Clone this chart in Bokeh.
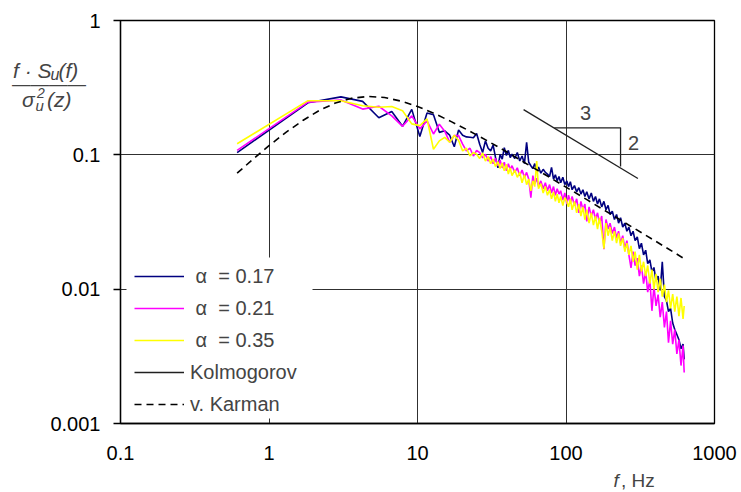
from bokeh.plotting import figure
from bokeh.models import (FixedTicker, CustomJSTickFormatter, Label, Legend, LegendItem,
                          BoxAnnotation, Range1d)
from bokeh.embed import file_html
from bokeh.resources import INLINE

# ---------------- data ----------------
freq = [0.61, 1.83, 3.05, 4.27, 5.49, 6.71, 7.93, 9.15, 10.37, 11.59, 12.81, 14.03, 15.25,
        16.47, 17.69, 18.91, 20.13, 21.35, 22.57, 23.79, 25.01, 26.23, 27.45, 28.67, 29.89,
        31.1, 32.3, 33.5, 34.8, 36.0, 37.2, 38.4, 39.7, 40.9, 42.1, 43.3, 45.2, 47.0, 48.8,
        50.6, 52.5, 54.3, 56.1, 58.0, 59.8, 61.6, 63.5, 65.3, 67.7, 70.2, 72.6, 75.0, 77.5,
        79.9, 82.4, 84.8, 87.2, 89.7, 92.1, 95.2, 98.2, 101.3,
        104, 107, 110, 114, 118, 122, 126, 130, 134, 138, 143, 148, 153, 158, 163, 168, 174,
        180, 186, 192, 198, 205, 212, 219, 226, 233, 241, 249, 257, 265, 274, 283, 292, 302,
        312, 322, 333, 344, 355, 367, 379, 391, 404, 417, 431, 445, 460, 475, 490, 506, 523,
        540, 558, 576, 595, 614, 625]

s_017 = [0.104, 0.244, 0.270, 0.250, 0.189, 0.210, 0.163, 0.218, 0.137, 0.205, 0.199, 0.147, 0.151,
         0.140, 0.115, 0.153, 0.140, 0.136, 0.135, 0.134, 0.144, 0.120, 0.104, 0.127, 0.112,
         0.107, 0.118, 0.096, 0.080, 0.101, 0.093, 0.113, 0.099, 0.108, 0.0955, 0.101, 0.094, 0.104, 0.090,
         0.098, 0.086, 0.124, 0.088, 0.083, 0.079, 0.086, 0.076, 0.081, 0.073, 0.078, 0.074, 0.0718, 0.069,
         0.0806, 0.066, 0.071, 0.064, 0.069, 0.062, 0.068, 0.060, 0.064,
         0.058, 0.063, 0.055, 0.059, 0.053, 0.057, 0.051, 0.055, 0.049, 0.053, 0.047, 0.052, 0.045, 0.049,
         0.043, 0.047, 0.041, 0.045, 0.039, 0.042, 0.036, 0.038, 0.033, 0.036, 0.031, 0.034, 0.029, 0.031,
         0.027, 0.029, 0.025, 0.027, 0.023, 0.0245, 0.020, 0.022, 0.018, 0.0195, 0.0155, 0.0165, 0.0135,
         0.0145, 0.0115, 0.0125, 0.0098, 0.0160, 0.0088, 0.0082, 0.0068, 0.0072, 0.0056, 0.0050, 0.0046,
         0.0042, 0.0036, 0.0039, 0.0030]

s_021 = [0.108, 0.247, 0.256, 0.219, 0.230, 0.195, 0.163, 0.195, 0.156, 0.179, 0.143, 0.169, 0.150,
         0.124, 0.139, 0.139, 0.120, 0.107, 0.112, 0.098, 0.108, 0.104, 0.095, 0.101, 0.090,
         0.097, 0.086, 0.094, 0.083, 0.091, 0.080, 0.088, 0.076, 0.086, 0.078, 0.083, 0.074, 0.080, 0.070,
         0.077, 0.068, 0.074, 0.066, 0.048, 0.070, 0.061, 0.067, 0.058, 0.064, 0.056, 0.062, 0.054, 0.060,
         0.052, 0.058, 0.050, 0.056, 0.051, 0.054, 0.046, 0.052, 0.043,
         0.050, 0.044, 0.049, 0.042, 0.047, 0.037, 0.045, 0.039, 0.043, 0.032, 0.041, 0.035, 0.039, 0.033,
         0.037, 0.031, 0.035, 0.0198, 0.033, 0.028, 0.031, 0.026, 0.029, 0.024, 0.027, 0.022, 0.025, 0.020,
         0.023, 0.018, 0.0144, 0.019, 0.015, 0.017, 0.0125, 0.015, 0.011, 0.0135, 0.0095, 0.0118, 0.0069,
         0.0105, 0.0075, 0.0091, 0.0062, 0.0080, 0.0052, 0.0068, 0.0040, 0.0058, 0.0039, 0.0050, 0.0033,
         0.0042, 0.0027, 0.0038, 0.0024]

s_035 = [0.121, 0.253, 0.253, 0.232, 0.226, 0.229, 0.213, 0.170, 0.165, 0.185, 0.110, 0.127, 0.135,
         0.124, 0.140, 0.128, 0.107, 0.112, 0.098, 0.104, 0.101, 0.094, 0.103, 0.090, 0.097,
         0.086, 0.093, 0.082, 0.089, 0.079, 0.087, 0.076, 0.085, 0.072, 0.080, 0.070, 0.077, 0.068, 0.074,
         0.062, 0.071, 0.060, 0.066, 0.054, 0.064, 0.058, 0.090, 0.056, 0.061, 0.052, 0.058, 0.050, 0.055,
         0.047, 0.053, 0.045, 0.051, 0.044, 0.049, 0.042, 0.048, 0.045,
         0.041, 0.047, 0.039, 0.045, 0.037, 0.043, 0.035, 0.041, 0.033, 0.039, 0.031, 0.037, 0.030, 0.035,
         0.028, 0.034, 0.027, 0.020, 0.031, 0.025, 0.029, 0.023, 0.027, 0.022, 0.026, 0.021, 0.024, 0.019,
         0.022, 0.018, 0.021, 0.016, 0.019, 0.014, 0.018, 0.0135, 0.016, 0.0125, 0.015, 0.0110, 0.0140,
         0.0100, 0.0130, 0.0095, 0.0120, 0.0088, 0.0108, 0.0080, 0.0098, 0.0072, 0.0092, 0.0068, 0.0088,
         0.0063, 0.0086, 0.0060, 0.0075]

karman_f = [0.61, 0.8, 1, 1.3, 1.7, 2.2, 2.8, 3.6, 4.7, 6, 8, 10, 13, 17, 22, 30, 40, 55, 75,
            100, 140, 200, 280, 400, 550, 640]
karman_v = [0.073, 0.095, 0.117, 0.147, 0.181, 0.215, 0.243, 0.264, 0.272, 0.267, 0.249, 0.229,
            0.203, 0.176, 0.152, 0.126, 0.105, 0.085, 0.0695, 0.0575, 0.046, 0.0362, 0.0289,
            0.0228, 0.0184, 0.0166]

kolm_f = [51.8, 305]
kolm_v = [0.217, 0.0666]
tri_f = [83.4, 233, 233]
tri_v = [0.159, 0.159, 0.0818]

labels = [" \u03b1  = 0.17", " \u03b1  = 0.21", " \u03b1  = 0.35", "Kolmogorov", "v. Karman"]
x_ticks = [0.1, 1, 10, 100, 1000]
y_ticks = [0.001, 0.01, 0.1, 1]

assert len(freq) == len(s_017) == len(s_021) == len(s_035)

FONT = "Liberation Sans"
SHIFT = 300   # hidden extra border on the left that hosts the axis-title labels

# page-pixel -> data helpers (used only to place annotation texts)
def fx(px):
    return 10 ** ((px - 120.0) / 148.5 - 1)

def fy(py):
    return 10 ** (-(py - 20.0) / 134.33)

p = figure(width=741 + SHIFT, height=492, x_axis_type="log", y_axis_type="log",
           x_range=Range1d(0.1, 1000), y_range=Range1d(0.001, 1),
           output_backend="svg", toolbar_location=None,
           min_border_left=120 + SHIFT, min_border_right=27, min_border_top=20,
           min_border_bottom=69, margin=(0, 0, 0, -SHIFT))

p.background_fill_color = "white"
p.border_fill_color = "white"
p.outline_line_color = "black"
p.outline_line_width = 1.3

fmt = CustomJSTickFormatter(code="return String(tick);")
p.xaxis.ticker = FixedTicker(ticks=x_ticks, minor_ticks=[])
p.yaxis.ticker = FixedTicker(ticks=y_ticks, minor_ticks=[])
p.xaxis.formatter = fmt
p.yaxis.formatter = fmt
for ax in (p.xaxis[0], p.yaxis[0]):
    ax.axis_line_color = "black"
    ax.axis_line_width = 1.3
    ax.major_tick_line_color = "black"
    ax.major_tick_line_width = 1.3
    ax.major_tick_in = 0
    ax.minor_tick_in = 0
    ax.minor_tick_out = 0
    ax.major_label_text_font = FONT
    ax.major_label_text_font_size = "20px"
    ax.major_label_text_color = "black"
p.xaxis.major_tick_out = 0
p.xaxis.major_label_standoff = 22
p.yaxis.major_tick_out = 7
p.yaxis.major_label_standoff = 13

p.xgrid.grid_line_color = "#303030"
p.ygrid.grid_line_color = "#303030"
p.xgrid.grid_line_width = 1
p.ygrid.grid_line_width = 1

r1 = p.line(freq, s_017, line_color="#000080", line_width=1.6)
r2 = p.line(freq, s_021, line_color="#FF00FF", line_width=1.6)
r3 = p.line(freq, s_035, line_color="#FFFF00", line_width=1.6)
r5 = p.line(karman_f, karman_v, line_color="black", line_width=1.6, line_dash="7 5")
r4 = p.line(kolm_f, kolm_v, line_color="#202020", line_width=1.3)
p.line(tri_f, tri_v, line_color="#202020", line_width=1.3)

p.add_layout(Label(x=fx(585), y=fy(112), text="3", text_align="center", text_baseline="middle",
                   text_font=FONT, text_font_size="20px"))
p.add_layout(Label(x=fx(633), y=fy(142), text="2", text_align="center", text_baseline="middle",
                   text_font=FONT, text_font_size="20px"))

# white legend background
p.add_layout(BoxAnnotation(left=fx(126), right=fx(312), top=fy(257), bottom=fy(418),
                           fill_color="white", fill_alpha=1.0, line_alpha=0))

legend = Legend(items=[LegendItem(label=labels[0], renderers=[r1]),
                       LegendItem(label=labels[1], renderers=[r2]),
                       LegendItem(label=labels[2], renderers=[r3]),
                       LegendItem(label=labels[3], renderers=[r4]),
                       LegendItem(label=labels[4], renderers=[r5])],
                location=(14, 3), padding=0, spacing=0, margin=0,
                glyph_width=50, glyph_height=32, label_height=32, label_standoff=6,
                label_text_font=FONT, label_text_font_size="20px",
                background_fill_alpha=0, border_line_alpha=0)
p.add_layout(legend)

# axis titles: labels hosted in the (partly hidden) left side panel so the frame does not clip them
def txt(x, y, t, size="21px", style="italic"):
    p.add_layout(Label(x=fx(x), y=fy(y), text=t, text_font=FONT, text_font_size=size,
                       text_font_style=style, text_baseline="middle", text_align="left"),
                 "left")

# y-axis title: f . S_u(f) / sigma_u^2(z)   (y = vertical centre of each piece)
txt(12.5, 69.6, "f \u00b7 S")
txt(50, 73.5, "u", size="16px")
txt(58, 69.6, "(f)")
txt(11.5, 82.6, "\u2014\u2014\u2014\u2014", size="18.5px", style="normal")   # fraction bar
txt(21.5, 98.6, "\u03c3")
txt(36.5, 92.2, "2", size="14px")
txt(35, 105.3, "u", size="15px")
txt(46.5, 98.6, "(z)")

# x-axis title
txt(613, 479.5, "f", size="19px")
txt(620.5, 479.5, ",  Hz", size="19px", style="normal")

open("out.html", "w").write(file_html(p, INLINE))
